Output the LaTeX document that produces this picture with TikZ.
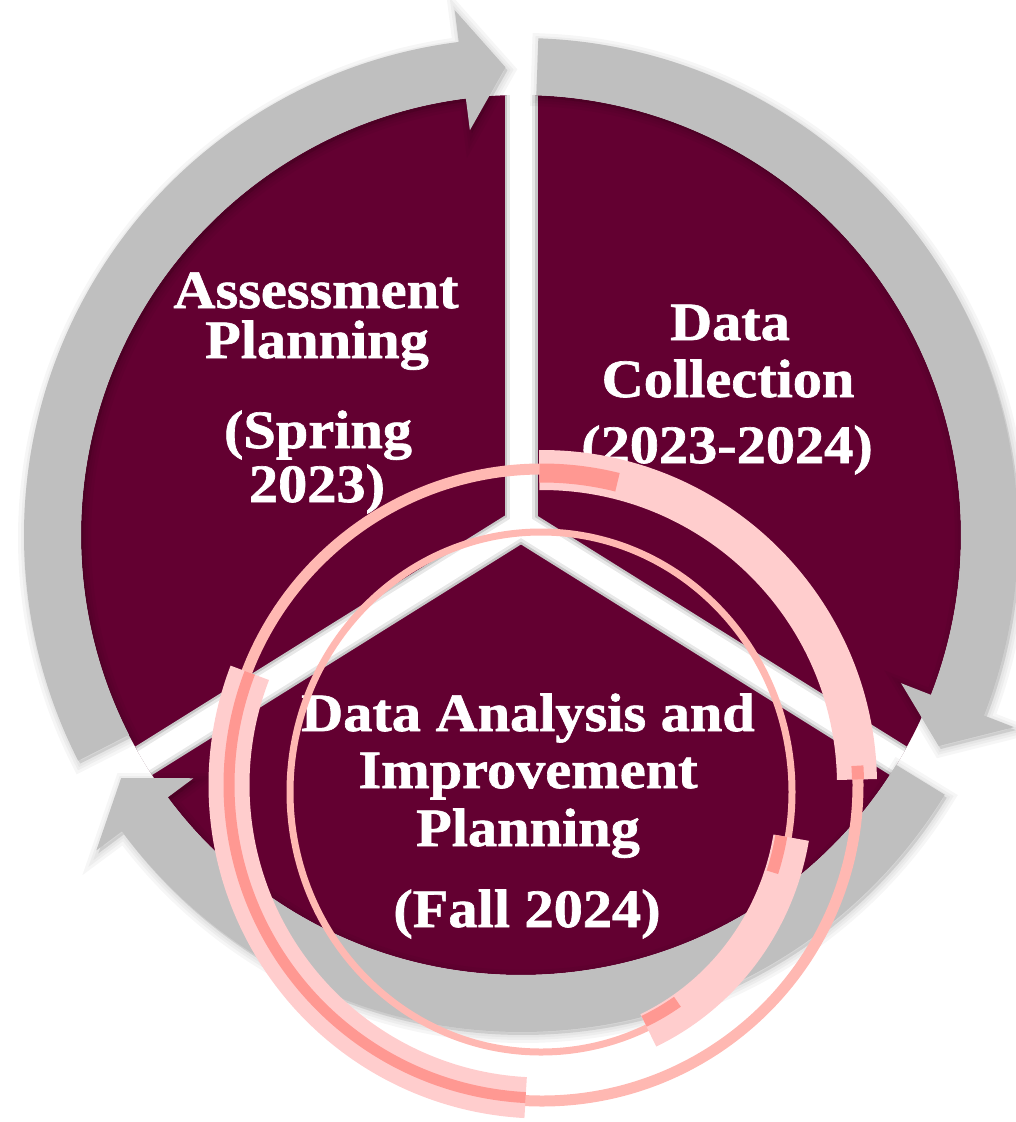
\documentclass[tikz,border=0pt]{standalone}
\usepackage{fontspec}
\newfontfamily\labelserif[FakeStretch=1.08,FakeBold=1.2]{Liberation Serif}
\definecolor{sectormaroon}{RGB}{99,0,49}
\definecolor{arrowgrey}{RGB}{191,191,191}
\definecolor{ringpink}{RGB}{255,184,178}
\definecolor{bandpink}{RGB}{255,205,205}
\definecolor{accentpink}{RGB}{255,152,146}

% curved cycle arrow around the hub: #1 options, #2 tail angle, #3 head base angle, #4 tip angle
\newcommand\cyclearrow[4]{%
  \path[#1] (#2:497pt) arc[start angle=#2, end angle=#3, radius=497pt]
    -- (#3:529pt) -- (#4:468pt) -- (#3:408pt) -- (#3:440pt)
    arc[start angle=#3, end angle=#2, radius=440pt] -- cycle;}

\begin{document}
\begin{tikzpicture}[x=1pt, y=1pt,
  lbl/.style={text=white, font=\labelserif\bfseries\fontsize{54}{60}\selectfont,
    anchor=base, inner sep=0pt},
  gapline/.style={line width=#1},
  arrowshade/.style={draw=black, fill=black, opacity=0.035, line width=#1,
    xshift=2pt, yshift=-3pt},
  ring/.style={ringpink, line width=#1},
  band/.style={bandpink, line width=#1},
  accent/.style={accentpink, line width=#1},
]
\useasboundingbox (0,0) rectangle (1015,-1122);
\coordinate (hub) at (521,-535);
\coordinate (junction) at (521,-525);

% three maroon sectors: one disk split by a white Y
\fill[sectormaroon] (hub) circle[radius=440pt];
\begin{scope}
  \clip (hub) circle[radius=440pt];
  \foreach \a in {90,-32,212}
    \draw[gapline=33pt, black!22] (junction) -- ++(\a:520pt);
  \foreach \a in {90,-32,212}
    \draw[gapline=28pt, black!9] (junction) -- ++(\a:520pt);
  \foreach \a in {90,-32,212}
    \draw[gapline=22pt, white] (junction) -- ++(\a:520pt);
\end{scope}

% grey cycle arrows with a soft shadow
\begin{scope}[shift={(hub)}]
  \foreach \w in {16,10,5} {
    \cyclearrow{arrowshade=\w pt}{207}{97.2}{91.9}
    \cyclearrow{arrowshade=\w pt}{88}{-21.3}{-26.8}
    \cyclearrow{arrowshade=\w pt}{-31.5}{-143.4}{-148.7}
  }
  \cyclearrow{fill=arrowgrey}{207}{97.2}{91.9}
  \cyclearrow{fill=arrowgrey}{88}{-21.3}{-26.8}
  \cyclearrow{fill=arrowgrey}{-31.5}{-143.4}{-148.7}
\end{scope}

% stage labels
\node[lbl] (plan1) at (316,-308) {Assessment};
\node[lbl] (plan2) at (317,-358) {Planning};
\node[lbl] (plan3) at (318,-448) {(Spring};
\node[lbl] (plan4) at (317,-502) {2023)};

\node[lbl] (coll1) at (730,-340) {Data};
\node[lbl] (coll2) at (728,-397) {Collection};
\node[lbl] (coll3) at (727,-463) {(2023-2024)};

\node[lbl] (anal1) at (528,-731) {Data Analysis and};
\node[lbl] (anal2) at (528,-788) {Improvement};
\node[lbl] (anal3) at (528,-846) {Planning};
\node[lbl] (anal4) at (527,-927) {(Fall 2024)};

% decorative pink rings
\begin{scope}[shift={(542,-785)}]
  \draw[ring=11pt] (0,0) circle[radius=316pt];
\end{scope}
\begin{scope}[shift={(541,-792)}]
  \draw[ring=7pt] (0,0) ellipse[x radius=251pt, y radius=260pt];
\end{scope}
\begin{scope}[shift={(542,-785)}]
  \draw[band=40pt] (90.5:315pt) arc[start angle=90.5, end angle=1, radius=315pt];
  \draw[accent=19pt] (90.5:312pt) arc[start angle=90.5, end angle=76, radius=312pt];
  \draw[accent=12pt] (3.5:316pt) arc[start angle=3.5, end angle=1, radius=316pt];
  \draw[band=41pt] (159:313pt) arc[start angle=159, end angle=267, radius=313pt];
  \draw[accent=11pt] (159:313pt) arc[start angle=159, end angle=267, radius=313pt];
\end{scope}
\begin{scope}[shift={(541,-792)}]
  \draw[band=36pt] (-10:254pt and 263pt)
    arc[start angle=-10, end angle=-65, x radius=254pt, y radius=263pt];
  \draw[accent=12pt] (-10:244pt and 253pt)
    arc[start angle=-10, end angle=-18.5, x radius=244pt, y radius=253pt];
  \draw[accent=12pt] (-56:244pt and 253pt)
    arc[start angle=-56, end angle=-65, x radius=244pt, y radius=253pt];
\end{scope}
\end{tikzpicture}
\end{document}
